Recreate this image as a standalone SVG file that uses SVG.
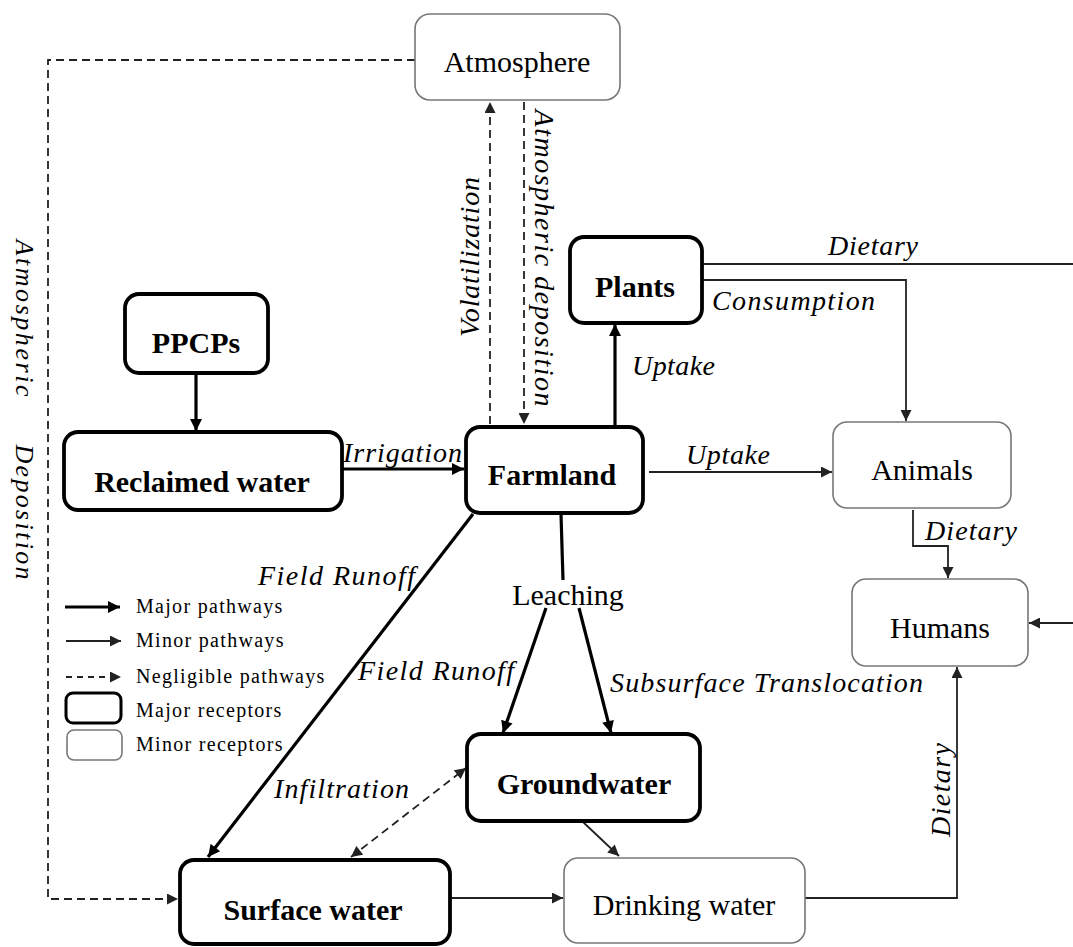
<svg xmlns="http://www.w3.org/2000/svg" width="1073" height="947" viewBox="0 0 1073 947">
<defs>
<marker id="ah" viewBox="0 0 10 10" refX="10" refY="5" markerWidth="14" markerHeight="12" markerUnits="userSpaceOnUse" orient="auto-start-reverse"><path d="M0,0 L10,5 L0,10 z" fill="#000"/></marker>
<marker id="ahs" viewBox="0 0 10 10" refX="10" refY="5" markerWidth="13" markerHeight="11" markerUnits="userSpaceOnUse" orient="auto-start-reverse"><path d="M0,0 L10,5 L0,10 z" fill="#222"/></marker>
</defs>
<style>
.major{fill:#fff;stroke:#000;stroke-width:3.8}
.minor{fill:#fff;stroke:#777;stroke-width:1.6}
.nb{font-family:"Liberation Serif",serif;font-weight:bold;font-size:30px;text-anchor:middle;fill:#000}
.nr{font-family:"Liberation Serif",serif;font-size:30px;text-anchor:middle;fill:#000}
.lab{font-family:"Liberation Serif",serif;font-style:italic;font-size:28px;fill:#000}
.leg{font-family:"Liberation Serif",serif;font-size:20px;letter-spacing:1.3px;fill:#000}
.thick{fill:none;stroke:#000;stroke-width:3.2}
.thin{fill:none;stroke:#222;stroke-width:1.8}
.dash{fill:none;stroke:#222;stroke-width:1.8;stroke-dasharray:8,5}
</style>
<rect width="1073" height="947" fill="#fff"/>
<g id="connectors">
<polyline class="dash" points="415,60 48,60 48,899 178,899" marker-end="url(#ahs)"/>
<line class="dash" x1="490" y1="424" x2="490" y2="102" marker-end="url(#ahs)"/>
<line class="dash" x1="524" y1="102" x2="524" y2="424" marker-end="url(#ahs)"/>
<line class="thick" x1="196" y1="373" x2="196" y2="431" marker-end="url(#ah)"/>
<line class="thick" x1="342" y1="469" x2="464" y2="469" marker-end="url(#ah)"/>
<line class="thick" x1="615" y1="426" x2="615" y2="324" marker-end="url(#ah)"/>
<line class="thin" x1="649" y1="472" x2="832" y2="472" marker-end="url(#ahs)"/>
<line class="thin" x1="702" y1="264" x2="1073" y2="264"/>
<polyline class="thin" points="702,280 906,280 906,421" marker-end="url(#ahs)"/>
<polyline class="thin" points="913,510 913,546 948,546 948,578" marker-end="url(#ahs)"/>
<line class="thin" x1="1073" y1="623" x2="1029" y2="623" marker-end="url(#ahs)"/>
<line class="thick" x1="473" y1="514" x2="208" y2="857" marker-end="url(#ah)"/>
<line class="thick" x1="561" y1="514" x2="563" y2="580"/>
<line class="thick" x1="546" y1="608" x2="503" y2="733" marker-end="url(#ah)"/>
<line class="thick" x1="579" y1="608" x2="611" y2="733" marker-end="url(#ah)"/>
<line class="dash" x1="351" y1="857" x2="466" y2="768" marker-start="url(#ahs)" marker-end="url(#ahs)"/>
<line class="thin" x1="583" y1="822" x2="619" y2="856" marker-end="url(#ahs)"/>
<line class="thin" x1="450" y1="898" x2="563" y2="898" marker-end="url(#ahs)"/>
<polyline class="thin" points="805,898 957,898 957,667" marker-end="url(#ahs)"/>
</g>
<g id="labels">
<text class="lab" transform="translate(479,257) rotate(-90)" text-anchor="middle" textLength="160">Volatilization</text>
<text class="lab" transform="translate(535,258) rotate(90)" text-anchor="middle" textLength="297">Atmospheric deposition</text>
<text class="lab" transform="translate(16,318) rotate(90)" text-anchor="middle" style="font-size:26px" textLength="157">Atmospheric</text>
<text class="lab" transform="translate(16,512) rotate(90)" text-anchor="middle" style="font-size:26px" textLength="135">Deposition</text>
<text class="lab" x="343" y="462" textLength="119">Irrigation</text>
<text class="lab" x="632" y="375" textLength="83">Uptake</text>
<text class="lab" x="686" y="464" textLength="84">Uptake</text>
<text class="lab" x="828" y="255" textLength="90">Dietary</text>
<text class="lab" x="712" y="310" textLength="163">Consumption</text>
<text class="lab" x="925" y="540" textLength="92">Dietary</text>
<text class="lab" x="258" y="585" textLength="157">Field Runoff</text>
<text class="nr" x="568" y="605">Leaching</text>
<text class="lab" x="358" y="680" textLength="156">Field Runoff</text>
<text class="lab" x="610" y="692" textLength="313">Subsurface Translocation</text>
<text class="lab" x="274" y="798" textLength="135">Infiltration</text>
<text class="lab" transform="translate(950,790) rotate(-90)" text-anchor="middle" textLength="94">Dietary</text>
</g>
<g id="atmosphere"><rect class="minor" x="415" y="14" width="205" height="86" rx="15"/><text class="nr" x="517" y="72">Atmosphere</text></g>
<g id="plants"><rect class="major" x="570" y="237" width="132" height="86" rx="14"/><text class="nb" x="635" y="297">Plants</text></g>
<g id="ppcps"><rect class="major" x="125" y="294" width="143" height="79" rx="14"/><text class="nb" x="196" y="353">PPCPs</text></g>
<g id="reclaimed"><rect class="major" x="64" y="432" width="278" height="78" rx="14"/><text class="nb" x="202" y="492">Reclaimed water</text></g>
<g id="farmland"><rect class="major" x="466" y="427" width="177" height="86" rx="14"/><text class="nb" x="552" y="485">Farmland</text></g>
<g id="animals"><rect class="minor" x="833" y="422" width="178" height="86" rx="14"/><text class="nr" x="922" y="480">Animals</text></g>
<g id="humans"><rect class="minor" x="852" y="579" width="176" height="87" rx="14"/><text class="nr" x="940" y="638">Humans</text></g>
<g id="groundwater"><rect class="major" x="467" y="734" width="233" height="87" rx="14"/><text class="nb" x="584" y="794">Groundwater</text></g>
<g id="surface"><rect class="major" x="180" y="860" width="270" height="84" rx="14"/><text class="nb" x="313" y="920">Surface water</text></g>
<g id="drinking"><rect class="minor" x="564" y="858" width="241" height="85" rx="14"/><text class="nr" x="684" y="915">Drinking water</text></g>
<g id="legend">
<line class="thick" x1="65" y1="607" x2="120" y2="607" marker-end="url(#ah)"/>
<text class="leg" x="136" y="613">Major pathways</text>
<line class="thin" x1="66" y1="641" x2="121" y2="641" marker-end="url(#ahs)"/>
<text class="leg" x="136" y="647">Minor pathways</text>
<line class="dash" x1="66" y1="677" x2="121" y2="677" marker-end="url(#ahs)" style="stroke-dasharray:6,5"/>
<text class="leg" x="136" y="683">Negligible pathways</text>
<rect class="major" x="66" y="693" width="55" height="30" rx="7" style="stroke-width:3"/>
<text class="leg" x="136" y="717">Major receptors</text>
<rect class="minor" x="67" y="730" width="55" height="30" rx="7"/>
<text class="leg" x="136" y="751">Minor receptors</text>
</g>
</svg>
